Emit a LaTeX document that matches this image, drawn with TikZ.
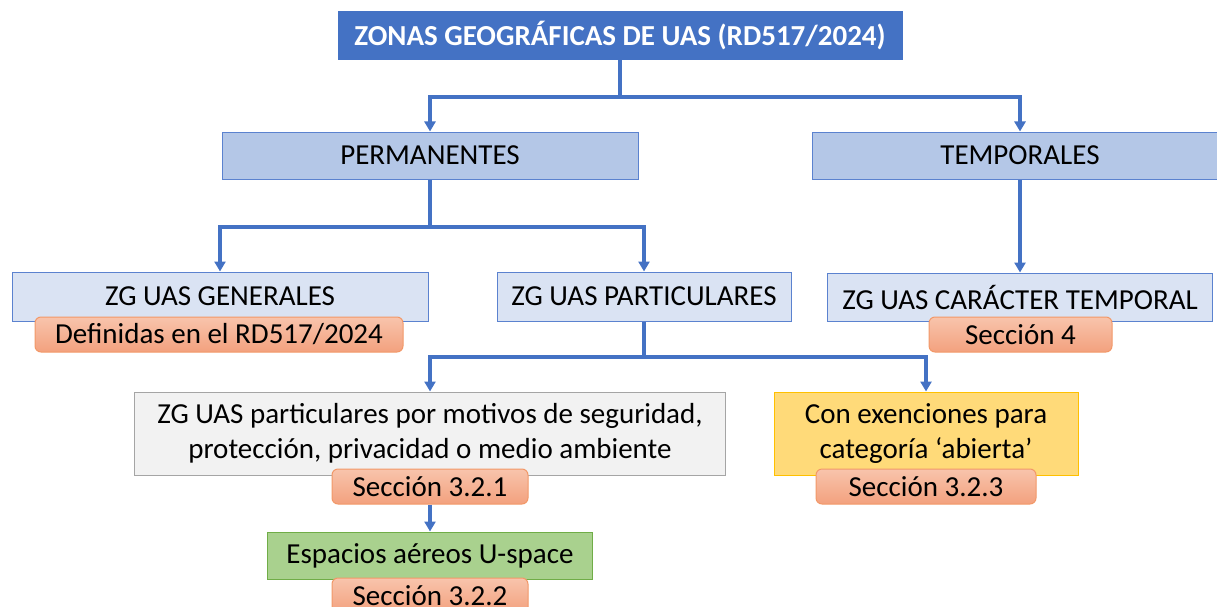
\documentclass[tikz,border=0pt]{standalone}
\usepackage{fontspec}
\setmainfont{Carlito}
\usetikzlibrary{arrows.meta}
\definecolor{cblue}{HTML}{4472C4}
\definecolor{cbord}{HTML}{5B82CF}
\definecolor{cmid}{HTML}{B4C7E7}
\definecolor{clight}{HTML}{DAE3F3}
\definecolor{cgray}{HTML}{F2F2F2}
\definecolor{cgraybd}{HTML}{A5A5A5}
\definecolor{cgreen}{HTML}{A9D18E}
\definecolor{cgreenbd}{HTML}{70AD47}
\definecolor{cyellow}{HTML}{FFDA79}
\definecolor{cyellowbd}{HTML}{FFC000}
\definecolor{csectop}{HTML}{F8C4AC}
\definecolor{csecbot}{HTML}{F3A17E}
\definecolor{csecbd}{HTML}{F29868}
\begin{document}
\begin{tikzpicture}[x=1pt,y=-1pt,
  base/.style={inner sep=0pt, align=center, font=\fontsize{29}{35}\selectfont, text=black, line width=1pt},
  titlebox/.style={base, fill=cblue, draw=cblue, text=white, font=\fontsize{29}{35}\selectfont\bfseries},
  midbox/.style={base, fill=cmid, draw=cbord},
  lightbox/.style={base, fill=clight, draw=cbord},
  graybox/.style={base, fill=cgray, draw=cgraybd},
  greenbox/.style={base, fill=cgreen, draw=cgreenbd},
  yellowbox/.style={base, fill=cyellow, draw=cyellowbd},
  secbox/.style={base, rounded corners=6pt, top color=csectop, bottom color=csecbot, draw=csecbd},
  conn/.style={draw=cblue, line width=3.5pt},
  arr/.style={conn, -{Triangle[length=10pt,width=11pt]}}
]
\useasboundingbox (0,0) rectangle (1217,607);
\clip (0,0) rectangle (1217,607);

% main boxes
\node[titlebox, minimum width=564pt, minimum height=48pt] (title) at (620,36) {ZONAS GEOGRÁFICAS DE UAS (RD517/2024)};
\node[midbox, minimum width=416pt, minimum height=47pt] (perm) at (430,155.5) {PERMANENTES};
\node[midbox, minimum width=416pt, minimum height=47pt] (temp) at (1020,155.5) {TEMPORALES};
\node[lightbox, minimum width=416pt, minimum height=49pt] (gen) at (220,296.5) {ZG UAS GENERALES};
\node[lightbox, minimum width=294pt, minimum height=49pt] (part) at (644,296.5) {ZG UAS PARTICULARES};
\node[lightbox, minimum width=385pt, minimum height=48pt] (ctemp) at (1020,297) {ZG UAS CARÁCTER TEMPORAL};
\node[graybox, minimum width=591pt, minimum height=83pt] (gray) at (430,433.5) {ZG UAS particulares por motivos de seguridad,\\protección, privacidad o medio ambiente};
\node[yellowbox, minimum width=304pt, minimum height=83pt] (yellow) at (926,433.5) {Con exenciones para\\categoría ‘abierta’};
\node[greenbox, minimum width=325pt, minimum height=47pt] (green) at (430,555.5) {Espacios aéreos U-space};

% section tags
\node[secbox, minimum width=368pt, minimum height=35pt] (def) at (219,334.5) {Definidas en el RD517/2024};
\node[secbox, minimum width=183pt, minimum height=35pt] (s4) at (1020.5,334.5) {Sección 4};
\node[secbox, minimum width=196pt, minimum height=35pt] (s321) at (430,486.5) {Sección 3.2.1};
\node[secbox, minimum width=220pt, minimum height=35pt] (s323) at (926,486.5) {Sección 3.2.3};
\node[secbox, minimum width=196pt, minimum height=35pt] (s322) at (430,595.5) {Sección 3.2.2};

% junctions
\coordinate (j1) at (620,97);
\coordinate (j2) at (430,227);
\coordinate (j3) at (644,357);

% connectors
\draw[conn] (title.south) -- (j1);
\draw[arr] (j1) -| (perm.north);
\draw[arr] (j1) -| (temp.north);
\draw[conn] (perm.south) -- (j2);
\draw[arr] (j2) -| (gen.north);
\draw[arr] (j2) -| (part.north);
\draw[arr] (temp.south) -- (ctemp.north);
\draw[conn] (part.south) -- (j3);
\draw[arr] (j3) -| (gray.north);
\draw[arr] (j3) -| (yellow.north);
\draw[arr] (s321.south) -- (green.north);
\end{tikzpicture}
\end{document}
